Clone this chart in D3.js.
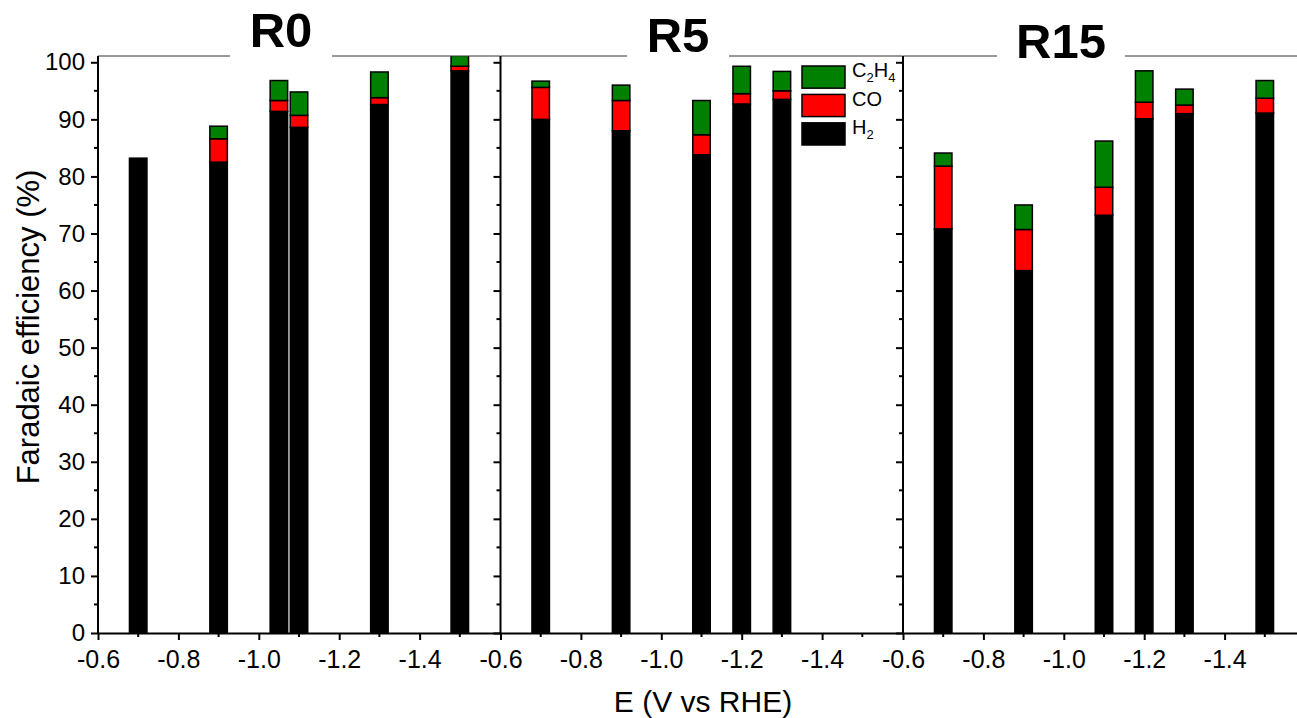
<!DOCTYPE html>
<html>
<head>
    <meta charset="utf-8">
    <title>Faradaic efficiency</title>
    <script src="https://d3js.org/d3.v7.min.js"></script>
    <style>
        body { margin: 0; background: #fff; }
        text { font-family: Arial, "Liberation Sans", sans-serif; fill: #000; }
        .axis path, .axis line { stroke: #000; stroke-width: 2; }
    </style>
</head>
<body>
<script>

// panels and the potentials of each bar
var panelNames = ["R0", "R5", "R15"];
var potentials = [
  [-0.7, -0.9, -1.05, -1.1, -1.3, -1.5],
  [-0.7, -0.9, -1.1, -1.2, -1.3],
  [-0.7, -0.9, -1.1, -1.2, -1.3, -1.5]
];

// faradaic efficiencies (%) per product, one list per panel
var h2 = [
  [83.2, 82.5, 91.4, 88.6, 92.6, 98.5],
  [90.0, 88.0, 83.8, 92.7, 93.5],
  [70.8, 63.5, 73.2, 90.1, 91.0, 91.1]
];
var co = [
  [0, 4.1, 1.9, 2.1, 1.2, 0.8],
  [5.6, 5.3, 3.5, 1.8, 1.5],
  [11.0, 7.2, 4.9, 2.9, 1.5, 2.6]
];
var c2h4 = [
  [0, 2.2, 3.5, 4.1, 4.5, 2.6],
  [1.1, 2.7, 6.0, 4.8, 3.4],
  [2.3, 4.3, 8.1, 5.5, 2.8, 3.1]
];

var xTicks = [-0.6, -0.8, -1.0, -1.2, -1.4];
var xMinorTicks = [-0.7, -0.9, -1.1, -1.3, -1.5];
var yTicks = [0, 10, 20, 30, 40, 50, 60, 70, 80, 90, 100];
var yMinorTicks = [5, 15, 25, 35, 45, 55, 65, 75, 85, 95];

var keys = ["H2", "CO", "C2H4"];
var colors = {H2: "#000000", CO: "#ff0000", C2H4: "#008000"};

var W = 1297, H = 718;
var panelLeft = [98, 500.5, 903];
var panelW = 402;
var plotTop = 56, plotBottom = 633;
var yMax = 101.1;
var barWidth = 0.0435;

var svg = d3.select("body").append("svg")
    .attr("width", W)
    .attr("height", H);

var y = d3.scaleLinear().domain([0, yMax]).range([plotBottom, plotTop]);

// title gaps in the top frame line: [x centre, gap half width, baseline]
var titleSpots = [[281, 51, 47], [678, 51, 52], [1061, 64, 58]];

panelNames.forEach(function(name, p) {
  var x = d3.scaleLinear().domain([-0.6, -1.6]).range([panelLeft[p], panelLeft[p] + panelW]);
  var g = svg.append("g");

  var clipId = "clip" + p;
  svg.append("clipPath").attr("id", clipId)
    .append("rect")
      .attr("x", panelLeft[p]).attr("y", plotTop)
      .attr("width", panelW).attr("height", plotBottom - plotTop);

  var rows = potentials[p].map(function(e, i) {
    return {E: e, H2: h2[p][i], CO: co[p][i], C2H4: c2h4[p][i]};
  });
  var series = d3.stack().keys(keys)(rows);

  g.append("g")
      .attr("clip-path", "url(#" + clipId + ")")
    .selectAll("g")
    .data(series)
    .enter().append("g")
      .attr("fill", function(d) { return colors[d.key]; })
    .selectAll("rect")
    .data(function(d) { return d.filter(function(v) { return v[1] - v[0] > 0; }); })
    .enter().append("rect")
      .attr("x", function(d) { return x(d.data.E + barWidth / 2); })
      .attr("width", function(d) { return x(d.data.E - barWidth / 2) - x(d.data.E + barWidth / 2); })
      .attr("y", function(d) { return y(d[1]); })
      .attr("height", function(d) { return y(d[0]) - y(d[1]); })
      .attr("stroke", "#000")
      .attr("stroke-width", 1.5);

  // top frame line
  g.append("line")
      .attr("x1", panelLeft[p]).attr("x2", panelLeft[p] + panelW)
      .attr("y1", y(yMax)).attr("y2", y(yMax))
      .attr("stroke", "#333").attr("stroke-width", 1);

  // x axis
  var xAxis = g.append("g")
      .attr("class", "axis")
      .attr("transform", "translate(0," + plotBottom + ")")
      .call(d3.axisBottom(x).tickValues(xTicks).tickSize(7).tickSizeOuter(0));
  xAxis.selectAll("text")
      .attr("font-size", 25)
      .attr("dy", "1.0em")
      .text(function(d) { return d3.format(".1f")(d).replace("−", "-"); });
  xAxis.append("g").selectAll("line")
    .data(xMinorTicks)
    .enter().append("line")
      .attr("x1", x).attr("x2", x)
      .attr("y1", 0).attr("y2", 4);

  // y axis
  var yAxis = g.append("g")
      .attr("class", "axis")
      .attr("transform", "translate(" + panelLeft[p] + ",0)")
      .call(d3.axisLeft(y).tickValues(yTicks).tickSize(7).tickSizeOuter(0));
  yAxis.selectAll("text")
      .attr("font-size", 24)
      .attr("x", -13)
      .text(function(d) { return p === 0 ? d : ""; });
  yAxis.append("g").selectAll("line")
    .data(yMinorTicks)
    .enter().append("line")
      .attr("y1", y).attr("y2", y)
      .attr("x1", 0).attr("x2", -4);
  yAxis.select(".domain").attr("d", "M0," + y(yMax) + "V" + plotBottom);

  // panel title over a white patch in the frame line
  var t = titleSpots[p];
  svg.append("rect")
      .attr("x", t[0] - t[1]).attr("y", 0)
      .attr("width", t[1] * 2).attr("height", y(yMax) + 1)
      .attr("fill", "#fff");
  svg.append("text")
      .attr("x", t[0]).attr("y", t[2])
      .attr("text-anchor", "middle")
      .attr("font-size", 49)
      .attr("font-weight", "bold")
      .text(name);
});

// legend (inside the R5 panel)
var legendKeys = ["C2H4", "CO", "H2"];
var legendY = d3.scaleBand().domain(legendKeys).range([66, 145]).paddingInner(0.22);
var legend = svg.append("g").selectAll("g")
  .data(legendKeys)
  .enter().append("g")
    .attr("transform", function(d) { return "translate(802," + legendY(d) + ")"; });

legend.append("rect")
    .attr("width", 43)
    .attr("height", legendY.bandwidth())
    .attr("fill", function(d) { return colors[d]; })
    .attr("stroke", "#000")
    .attr("stroke-width", 1.5);

var labels = {C2H4: [["C", 0], ["2", 1], ["H", 0], ["4", 1]], CO: [["CO", 0]], H2: [["H", 0], ["2", 1]]};
legend.append("text")
    .attr("x", 50)
    .attr("y", legendY.bandwidth() / 2)
    .attr("dy", "0.36em")
    .attr("font-size", 20)
    .each(function(d) {
      var el = d3.select(this);
      labels[d].forEach(function(part, i) {
        el.append("tspan")
          .attr("font-size", part[1] ? 13 : 20)
          .attr("dy", part[1] ? 5 : (i > 0 ? -5 : 0))
          .text(part[0]);
      });
    });

// axis titles
svg.append("text")
    .attr("x", 703).attr("y", 712)
    .attr("text-anchor", "middle")
    .attr("font-size", 30)
    .text("E (V vs RHE)");

svg.append("text")
    .attr("transform", "translate(39,327) rotate(-90)")
    .attr("text-anchor", "middle")
    .attr("font-size", 31)
    .text("Faradaic efficiency (%)");

</script>
</body>
</html>
